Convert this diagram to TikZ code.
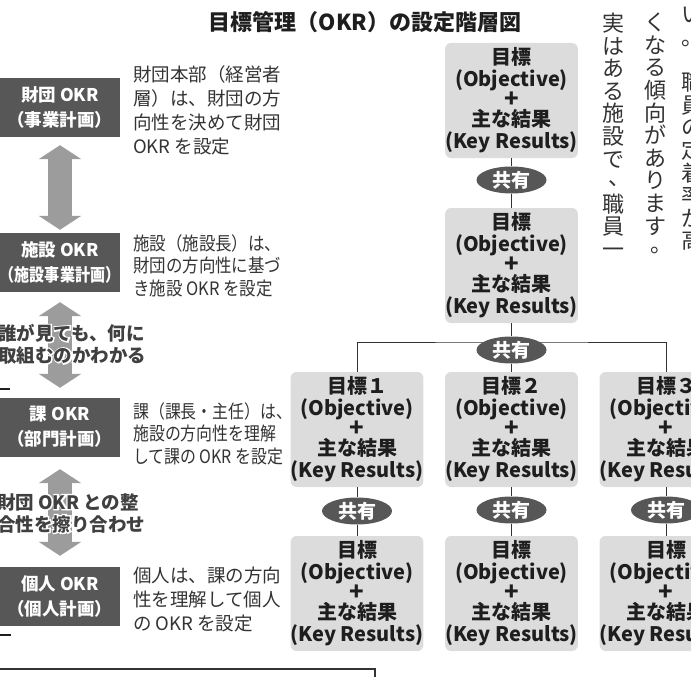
\documentclass[tikz,border=0pt]{standalone}
\usepackage{fontspec}
\usepackage{graphicx}
\usetikzlibrary{arrows.meta,shapes.geometric}
\newfontfamily\jp{Noto Sans CJK JP}
\newfontfamily\jpc[FakeStretch=0.89]{Noto Sans CJK JP}
\newfontfamily\jpcc[FakeStretch=0.86]{Noto Sans CJK JP}
\newfontfamily\jpb[FakeStretch=0.86]{Noto Sans CJK JP}
\newfontfamily\jphalo[FakeBold=14]{Noto Sans CJK JP}
\definecolor{boxdark}{HTML}{575757}
\definecolor{arrowgray}{HTML}{9C9C9C}
\definecolor{okrgray}{HTML}{DCDCDC}
\definecolor{desc}{HTML}{333333}
\definecolor{ink}{HTML}{1E1E1E}
\definecolor{overlay}{HTML}{404040}
\pgfdeclarelayer{background}
\pgfsetlayers{background,main}
\newcommand\halotxt[1]{\leavevmode\rlap{\textcolor{white}{\jphalo\bfseries #1}}#1}
\newcommand\vmark[1]{\makebox[1em][l]{\hspace{0.28em}\raisebox{0.2em}{#1}}}
\newcommand\okrtext[1]{\vphantom{国}#1\\(Objective)\\[-1pt]\scalebox{1.2}{+}\\[-3pt]主な結果\\[0pt](Key Results)}
\begin{document}
\begin{tikzpicture}[x=1pt,y=-1pt,
  darkbox/.style={fill=boxdark,text=white,font={\jp\bfseries\fontsize{17.5pt}{25pt}\selectfont},
    minimum width=120pt,minimum height=59pt,inner sep=0pt,align=center},
  bigarrow/.style={draw=arrowgray,line width=24pt,
    {Triangle[width=42pt,length=14pt]}-{Triangle[width=42pt,length=14pt]}},
  desctext/.style={text=desc,align=left,anchor=north west,inner sep=0pt,
    font={\jp\fontsize{18.5pt}{24pt}\selectfont}},
  desccond/.style={desctext,font={\jpc\fontsize{18.5pt}{22.5pt}\selectfont}},
  desccc/.style={desctext,font={\jpcc\fontsize{18.5pt}{22.5pt}\selectfont}},
  overtext/.style={text=overlay,align=left,anchor=north west,inner sep=0pt,
    font={\jp\bfseries\fontsize{18.5pt}{22pt}\selectfont}},
  okrbox/.style={fill=okrgray,rounded corners=6pt,minimum width=121pt,minimum height=115pt,
    inner sep=0pt,align=center,text=ink,font={\jp\bfseries\fontsize{20pt}{22pt}\selectfont}},
  shareell/.style={ellipse,fill=boxdark,text=white,minimum width=70pt,minimum height=27pt,
    inner sep=0pt,font={\jp\bfseries\fontsize{19pt}{20pt}\selectfont}},
  conn/.style={draw=desc,line width=0.9pt},
  vcol/.style={text=desc,align=center,anchor=north,inner sep=0pt,
    font={\jp\fontsize{22pt}{22.6pt}\selectfont\lineskiplimit=-50pt}}
]
\useasboundingbox (0,0) rectangle (691,677);
\clip (0,0) rectangle (691,677);

% title
\node[text=ink,font={\jp\bfseries\fontsize{22pt}{26pt}\selectfont},inner sep=0pt] (title) at (365,22) {目標管理（OKR）の設定階層図};

% left hierarchy boxes
\node[darkbox] (b1) at (60,107.5) {財団 OKR\\（事業計画）};
\node[darkbox] (b2) at (60,262.5) {施設 OKR\\{\jpb\bfseries（施設事業計画）}};
\node[darkbox] (b3) at (60,427) {課 OKR\\（部門計画）};
\node[darkbox] (b4) at (60,596) {個人 OKR\\（個人計画）};

% double arrows
\draw[bigarrow,shorten <=8pt,shorten >=3pt] (b1.south) -- (b2.north);
\draw[bigarrow,shorten <=10pt,shorten >=9.5pt] (b2.south) -- (b3.north);
\draw[bigarrow,shorten <=12.5pt,shorten >=10.5pt] (b3.south) -- (b4.north);

% overlay texts
\node[overtext] (ov1) at (-2,324) {\halotxt{誰が見ても、何に}\\\halotxt{取組むのかわかる}};
\node[overtext] (ov2) at (-3,493) {\halotxt{財団 OKR との整}\\\halotxt{合性を擦り合わせ}};

% descriptions
\node[desctext] (d1) at (133,65) {財団本部（経営者\\層）は、財団の方\\向性を決めて財団\\OKR を設定};
\node[desccond] (d2) at (133,234) {施設（施設長）は、\\財団の方向性に基づ\\き施設 OKR を設定};
\node[desccc] (d3) at (133,402) {課（課長・主任）は、\\施設の方向性を理解\\して課の OKR を設定};
\node[desctext] (d4) at (133,567) {個人は、課の方向\\性を理解して個人\\の OKR を設定};

% small frame fragments
\draw[line width=1.5pt,draw=ink] (0,389) -- (10,389);
\draw[line width=1.5pt,draw=ink] (0,635) -- (11,635);
\draw[line width=2pt,draw=desc] (-2,669) -- (375,669) -- (375,690);

% OKR tree
\node[okrbox] (A) at (511.5,100.5) {\okrtext{目標}};
\node[okrbox] (B) at (511.5,265.5) {\okrtext{目標}};
\node[okrbox] (m1) at (357,429.5) {\okrtext{目標１}};
\node[okrbox] (m2) at (511.5,429.5) {\okrtext{目標２}};
\node[okrbox] (m3) at (666,429.5) {\okrtext{目標３}};
\node[okrbox] (n1) at (357,593.5) {\okrtext{目標}};
\node[okrbox] (n2) at (511.5,593.5) {\okrtext{目標}};
\node[okrbox] (n3) at (666,593.5) {\okrtext{目標}};

\node[shareell] (s1) at (511.5,180) {共有};
\node[shareell] (s2) at (511.5,350) {共有};
\node[shareell] (t1) at (357,511) {共有};
\node[shareell] (t2) at (511.5,510) {共有};
\node[shareell] (t3) at (666,510) {共有};

\coordinate (bar) at (511.5,342);
\begin{pgfonlayer}{background}
\draw[conn] (m1.north) |- (bar) -| (m3.north);
\end{pgfonlayer}
\draw[conn] (A.south) -- (s1.north);
\draw[conn] (s1.south) -- (B.north);
\draw[conn] (B.south) -- (s2.north);
\draw[conn] (s2.south) -- (m2.north);
\draw[conn] (m1.south) -- (t1.north);
\draw[conn] (t1.south) -- (n1.north);
\draw[conn] (m2.south) -- (t2.north);
\draw[conn] (t2.south) -- (n2.north);
\draw[conn] (m3.south) -- (t3.north);
\draw[conn] (t3.south) -- (n3.north);

% vertical body text columns
\node[vcol] (c1) at (692,5.3) {\vphantom{国}い\\。\\　\\職\\員\\の\\定\\着\\率\\が\\高};
\node[vcol] (c2) at (655,12.8) {\vphantom{国}く\\な\\る\\傾\\向\\が\\あ\\り\\ま\\す\\\vmark{。}};
\node[vcol] (c3) at (613.5,12.8) {\vphantom{国}実\\は\\あ\\る\\施\\設\\で\\\vmark{、}\\職\\員\\一};
\end{tikzpicture}
\end{document}
